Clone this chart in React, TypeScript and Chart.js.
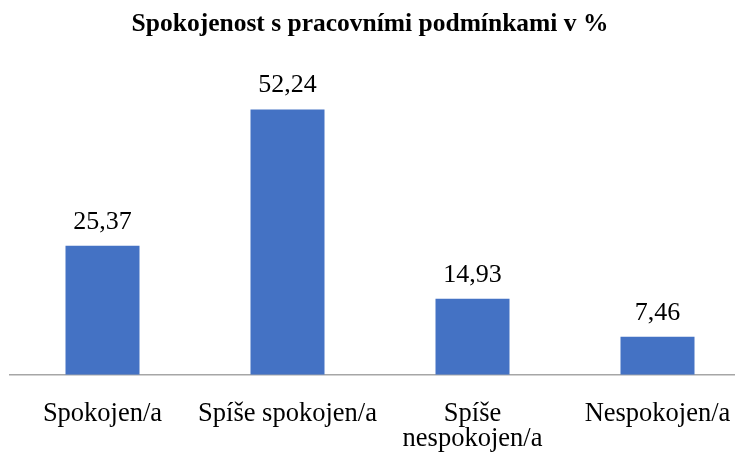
import React, { useEffect, useRef } from "react";
import { Chart, registerables } from "chart.js";

Chart.register(...registerables);

const TITLE = "Spokojenost s pracovními podmínkami v %";
const categories: (string | string[])[] = [
  "Spokojen/a",
  "Spíše spokojen/a",
  ["Spíše", "nespokojen/a"],
  "Nespokojen/a",
];
const values: number[] = [25.37, 52.24, 14.93, 7.46];
const yMax = 60;

const FONT = '"Liberation Serif", "Times New Roman", serif';

const fmt = (v: number) => v.toFixed(2).replace(".", ",");

const titlePlugin = {
  id: "customTitle",
  afterDraw(chart: any, _args: any, opts: any) {
    const ctx = chart.ctx;
    ctx.save();
    ctx.font = `bold ${opts.size}px ${FONT}`;
    ctx.fillStyle = "#000";
    ctx.textAlign = "center";
    ctx.textBaseline = "alphabetic";
    ctx.fillText(opts.text, opts.x, opts.y);
    ctx.restore();
  },
};

const valueLabels = {
  id: "valueLabels",
  afterDatasetsDraw(chart: any, _args: any, opts: any) {
    const ctx = chart.ctx;
    const meta = chart.getDatasetMeta(0);
    ctx.save();
    ctx.font = `${opts.size}px ${FONT}`;
    ctx.fillStyle = "#000";
    ctx.textAlign = "center";
    ctx.textBaseline = "alphabetic";
    meta.data.forEach((bar: any, i: number) => {
      ctx.fillText(fmt(values[i]), bar.x, bar.y - opts.offset);
    });
    ctx.restore();
  },
};

export default function App() {
  const ref = useRef<HTMLCanvasElement | null>(null);

  useEffect(() => {
    if (!ref.current) return;
    const chart = new Chart(ref.current, {
      type: "bar",
      data: {
        labels: categories,
        datasets: [
          {
            data: values,
            backgroundColor: "#4472C4",
            borderWidth: 0,
            categoryPercentage: 1,
            barPercentage: 0.4,
          },
        ],
      },
      options: {
        responsive: false,
        animation: false,
        layout: { padding: { top: 70, left: 10, right: 0, bottom: 4 } },
        plugins: {
          legend: { display: false },
          title: { display: false },
          tooltip: { enabled: false },
          customTitle: { text: TITLE, size: 25.5, x: 370, y: 31 },
          valueLabels: { size: 26, offset: 17 },
        } as any,
        scales: {
          x: {
            grid: {
              display: true,
              drawOnChartArea: false,
              drawTicks: true,
              tickLength: 24,
              color: "rgba(0,0,0,0)",
              tickColor: "rgba(0,0,0,0)",
            },
            border: { display: true, color: "#A6A6A6", width: 1.5 },
            ticks: {
              padding: 3,
              color: "#000",
              font: { family: FONT, size: 26.5, lineHeight: 0.95 },
              maxRotation: 0,
              autoSkip: false,
            },
          },
          y: {
            display: false,
            min: 0,
            max: yMax,
          },
        },
      },
      plugins: [titlePlugin, valueLabels],
    });
    return () => chart.destroy();
  }, []);

  return (
    <div
      style={{
        position: "absolute",
        left: 0,
        top: 0,
        width: 735,
        height: 459,
        overflow: "hidden",
        background: "#fff",
      }}
    >
      <canvas ref={ref} width={750} height={459} style={{ width: 750, height: 459 }} />
    </div>
  );
}
